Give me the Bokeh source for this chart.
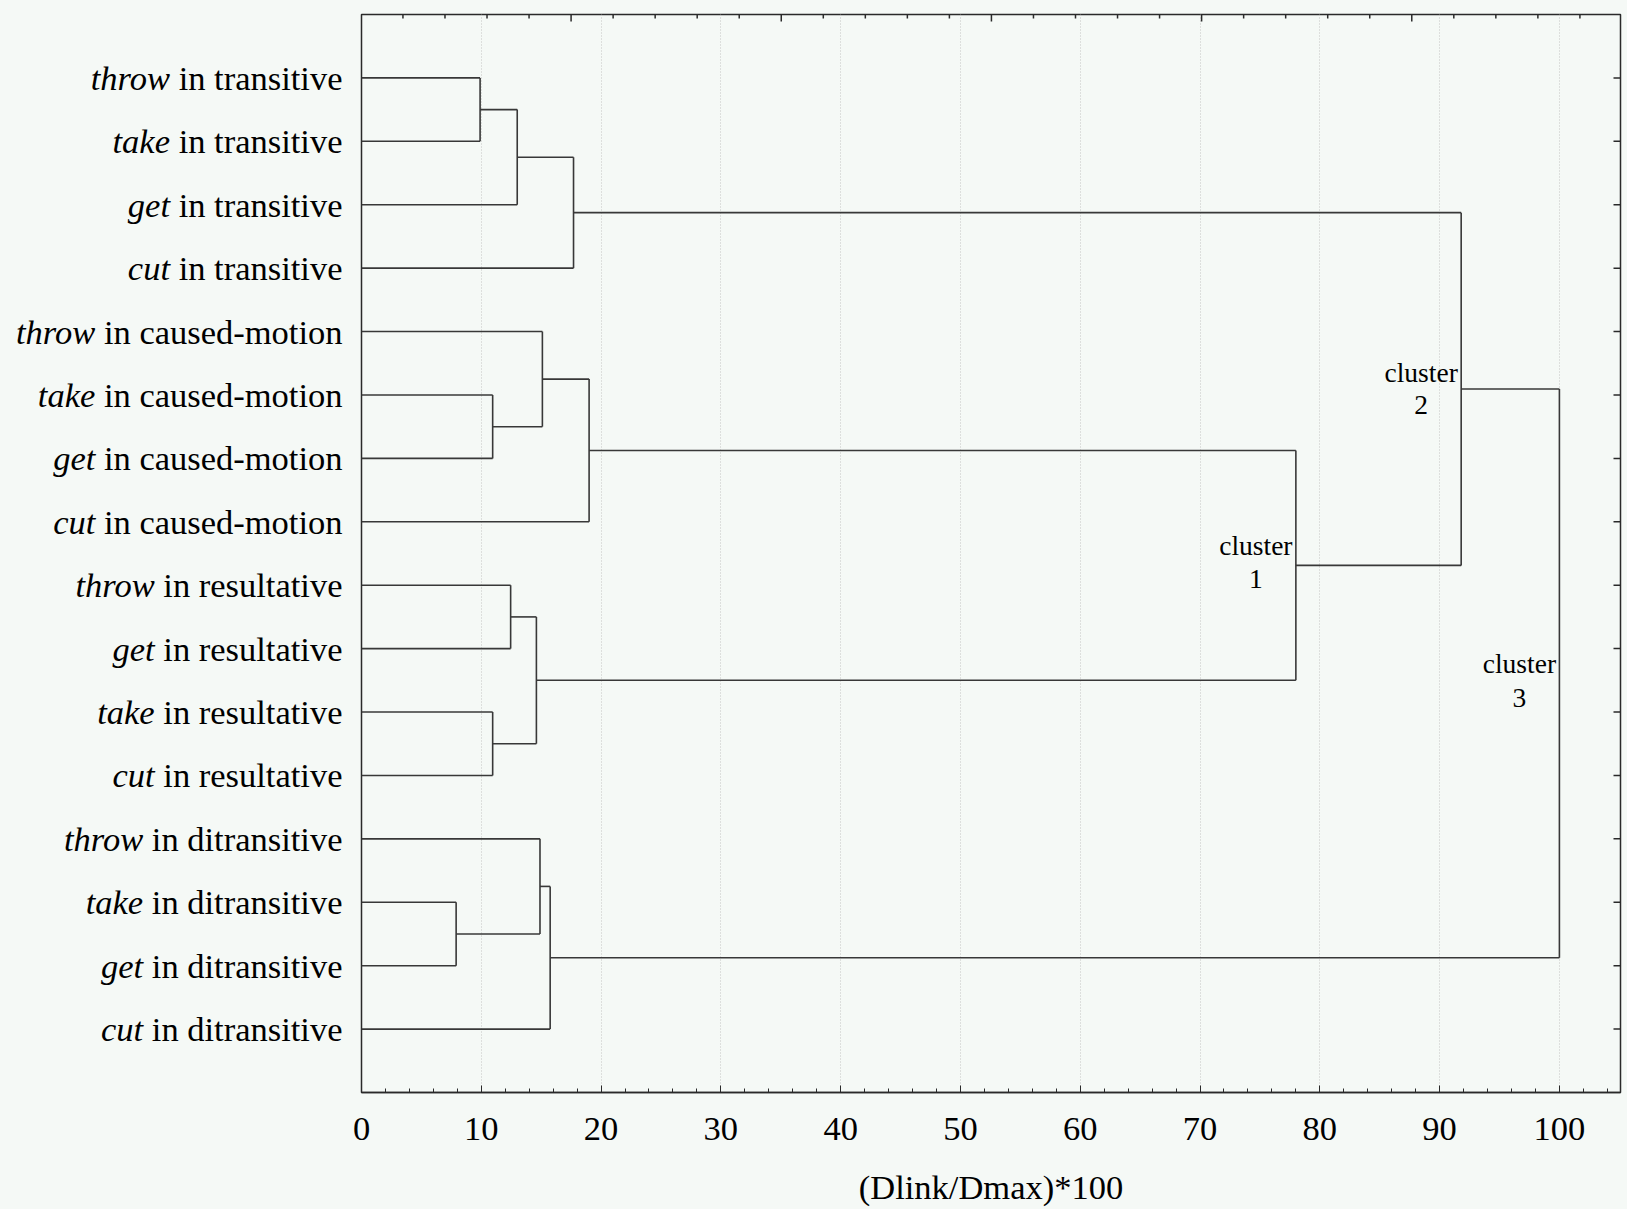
import numpy as np
from bokeh.plotting import figure
from bokeh.layouts import row
from bokeh.models import (ColumnDataSource, LabelSet, Range1d,
                          FixedTicker, SingleIntervalTicker)
from bokeh.core.properties import value
from bokeh.embed import file_html
from bokeh.resources import INLINE

# ---------------- data ----------------
verbs = ["throw", "take", "get", "cut",
         "throw", "take", "get", "cut",
         "throw", "get", "take", "cut",
         "throw", "take", "get", "cut"]
constructions = (["transitive"] * 4 + ["caused-motion"] * 4 +
                 ["resultative"] * 4 + ["ditransitive"] * 4)

# linkage: node 16+k joins link_a[k] and link_b[k] at distance link_h[k]
link_a = [0, 16, 17, 5, 4, 20, 8, 10, 22, 21, 18, 13, 12, 28, 26]
link_b = [1, 2, 3, 6, 19, 7, 9, 11, 23, 24, 25, 14, 27, 15, 29]
link_h = [9.9, 13.0, 17.7, 10.95, 15.1, 19.0, 12.45, 10.95, 14.6,
          78.0, 91.8, 7.9, 14.9, 15.75, 100.0]

cluster_names = ["1", "2", "3"]
cluster_merge = [9, 10, 14]          # which merge each cluster label annotates
x_title = "(Dlink/Dmax)*100"

# ---------------- geometry from linkage ----------------
n = len(verbs)
node_x = [0.0] * n
node_y = [float(i + 1) for i in range(n)]
xs0, ys0, xs1, ys1 = [], [], [], []
for a, b, h in zip(link_a, link_b, link_h):
    for c in (a, b):
        xs0.append(node_x[c]); ys0.append(node_y[c]); xs1.append(h); ys1.append(node_y[c])
    xs0.append(h); ys0.append(node_y[a]); xs1.append(h); ys1.append(node_y[b])
    node_x.append(h)
    node_y.append((node_y[a] + node_y[b]) / 2.0)
rows = node_y[:n]

# ---------------- text metrics (Times / Liberation Serif) ----------------
ROMAN = {' ': 250, 'a': 444, 'b': 500, 'c': 444, 'd': 500, 'e': 444, 'f': 333, 'g': 500,
         'h': 500, 'i': 278, 'k': 500, 'l': 278, 'm': 778, 'n': 500, 'o': 500, 'p': 500,
         'r': 333, 's': 389, 't': 278, 'u': 500, 'v': 500, 'w': 722, 'x': 500, 'y': 500,
         '-': 333}
FS = 34.5
def roman_width(s):
    return sum(ROMAN.get(ch, 500) for ch in s) * FS / 1000.0

BG = "#f5f9f6"
LINE = "#383838"
AX = "#2a2a2a"
FONT = "Liberation Serif"

W, H = 1627, 1209
FRAME_LEFT, BR, BT, BB = 361, 7, 14, 117
LPW = 345                      # width of the label panel
MBL = FRAME_LEFT - LPW         # small left border of main figure
X0, X1 = 0.0, 105.1
Y0, Y1 = 0.0, 17.0
px_x = (W - FRAME_LEFT - BR) / (X1 - X0)
px_y = (H - BT - BB) / (Y1 - Y0)
yr = Range1d(Y1, Y0)

# ---------------- left label panel ----------------
lp = figure(width=LPW, height=H, output_backend="svg", toolbar_location=None,
            x_range=Range1d(0, LPW), y_range=yr,
            x_axis_location=None, y_axis_location=None,
            min_border_left=0, min_border_right=0, min_border_top=BT, min_border_bottom=BB)
lp.background_fill_color = BG
lp.border_fill_color = BG
lp.outline_line_color = None
lp.grid.visible = False
TEXT_RIGHT = 342.0
rest = ["in " + c for c in constructions]
lab_src = ColumnDataSource(dict(
    y=rows, verb=verbs, rest=rest,
    xr=[TEXT_RIGHT] * n,
    xv=[TEXT_RIGHT - roman_width(r) - roman_width(" ") for r in rest]))
lp.text(x="xr", y="y", text="rest", source=lab_src, text_align="right",
        text_baseline="middle", text_font=value(FONT), text_font_size="34.5px",
        text_color="black")
lp.text(x="xv", y="y", text="verb", source=lab_src, text_align="right",
        text_baseline="middle", text_font=value(FONT), text_font_style="italic",
        text_font_size="34.5px", text_color="black")

# ---------------- main dendrogram ----------------
p = figure(width=W - LPW, height=H, output_backend="svg", toolbar_location=None,
           x_range=Range1d(X0, X1), y_range=yr,
           y_axis_location=None,
           min_border_left=MBL, min_border_right=BR, min_border_top=BT, min_border_bottom=BB)
p.background_fill_color = BG
p.border_fill_color = BG
p.outline_line_color = AX
p.outline_line_width = 1.5
p.ygrid.visible = False

xa = p.xaxis[0]
xa.ticker = SingleIntervalTicker(interval=10, num_minor_ticks=5)
xa.major_label_text_font = FONT
xa.major_label_text_font_size = "34.5px"
xa.major_label_text_color = "black"
xa.major_tick_in = 7
xa.major_tick_out = 0
xa.minor_tick_in = 4
xa.minor_tick_out = 0
xa.major_tick_line_color = AX
xa.minor_tick_line_color = AX
xa.axis_line_color = AX
xa.axis_line_width = 1.5
xa.major_label_standoff = 25
xa.axis_label = x_title
xa.axis_label_text_font = FONT
xa.axis_label_text_font_size = "34.5px"
xa.axis_label_text_font_style = "normal"
xa.axis_label_text_color = "black"
xa.axis_label_standoff = 25

p.xgrid.ticker = FixedTicker(ticks=list(range(10, 101, 10)))
p.xgrid.grid_line_color = "#c4c4c4"
p.xgrid.grid_line_dash = "1 2"
p.xgrid.grid_line_width = 1

# right-edge ticks at each row (inward)
p.segment(x0=[X1] * n, y0=rows, x1=[X1 - 7 / px_x] * n, y1=rows,
          line_color=AX, line_width=1.5)
# top-edge ticks (inward)
top_minor = list(np.arange(3.46, 105.0, 3.509))
top_len = [7 / px_y if (i % 5 == 4) else 4 / px_y for i in range(len(top_minor))]
p.segment(x0=top_minor, y0=[Y0] * len(top_minor), x1=top_minor, y1=top_len,
          line_color=AX, line_width=1.5)

# dendrogram
p.segment(x0=xs0, y0=ys0, x1=xs1, y1=ys1, line_color=LINE, line_width=1.6)

# cluster labels
cl_x = [link_h[k] for k in cluster_merge]
cl_y_word = [8.37, 5.64, 10.24]
cl_y_num = [8.90, 6.16, 10.78]
cl_src = ColumnDataSource(dict(x=cl_x, yw=cl_y_word, yn=cl_y_num,
                               word=["cluster"] * 3, num=cluster_names))
p.add_layout(LabelSet(x="x", y="yw", text="word", source=cl_src, x_offset=-40,
                      text_align="center", text_baseline="middle", text_font=FONT,
                      text_font_size="27.5px", text_color="black"))
p.add_layout(LabelSet(x="x", y="yn", text="num", source=cl_src, x_offset=-40,
                      text_align="center", text_baseline="middle", text_font=FONT,
                      text_font_size="27.5px", text_color="black"))

layout = row(lp, p, spacing=0)
layout.styles = {"background-color": BG}
open("out.html", "w").write(file_html(layout, INLINE))
